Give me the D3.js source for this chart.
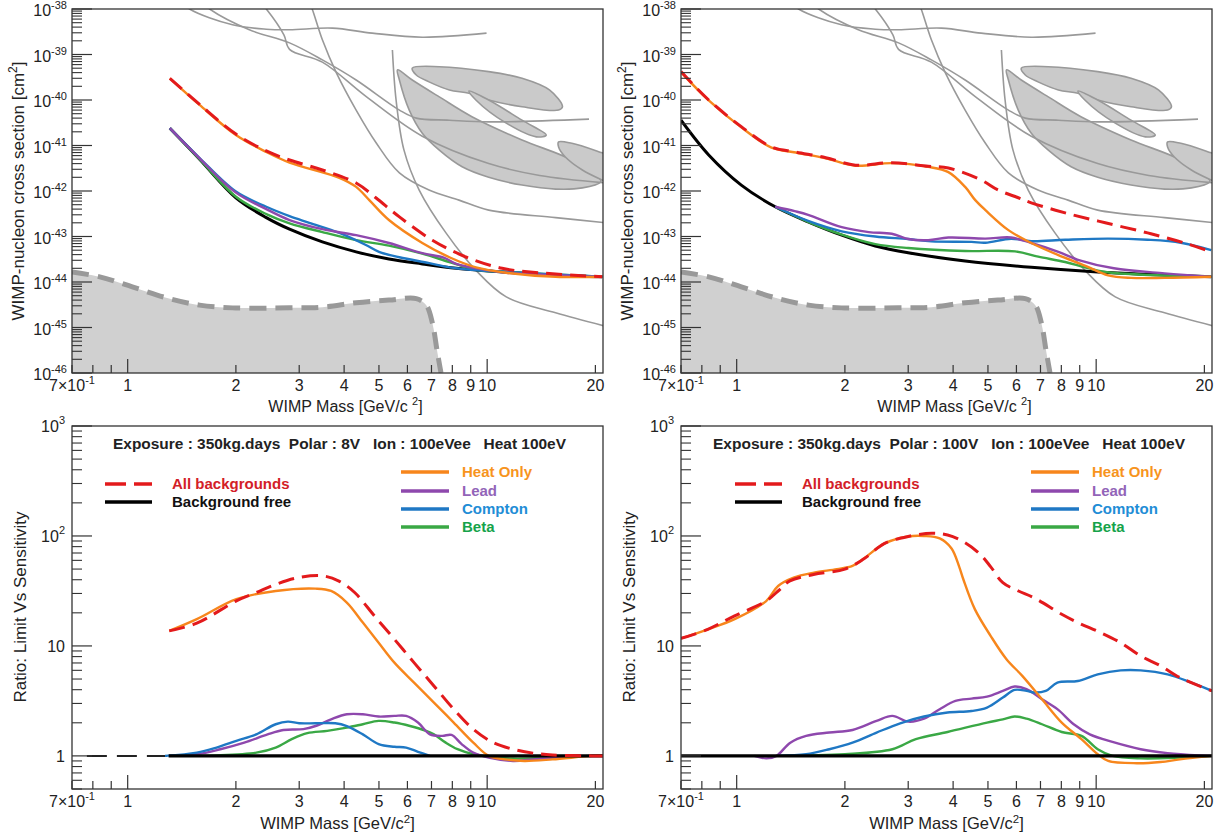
<!DOCTYPE html>
<html><head><meta charset="utf-8">
<script src="https://cdn.jsdelivr.net/npm/d3@7"></script>
<style>
body{margin:0;background:#fff}
svg{display:block}
text{font-family:"Liberation Sans",Arial,Helvetica,sans-serif;fill:#222}
</style></head>
<body><svg id="c" width="1227" height="836"></svg>
<script>
// ---------------- DATA ----------------
// Top-left (8V) : WIMP mass [GeV/c2] and cross-section [cm2]
const tlMassRed    = [1.31,1.585,2.0,2.43,2.82,3.48,4.32,4.9,5.7,7.04,8.76,11.0,13.9,20.9];
const tlSigRed     = [3.0e-40,8.0e-41,1.78e-41,7.6e-42,4.8e-42,2.9e-42,1.5e-42,7.1e-43,2.7e-43,8.3e-44,3.5e-44,2.0e-44,1.6e-44,1.3e-44];
const tlMassOrange = [1.31,1.585,2.0,2.43,2.82,3.88,4.32,4.7,5.33,6.6,7.85,9.31,11.3,15.5,20.9];
const tlSigOrange  = [3.0e-40,7.8e-41,1.7e-41,7.2e-42,4.2e-42,1.95e-42,1.23e-42,6.3e-43,2.3e-43,7.2e-44,3.5e-44,2.1e-44,1.6e-44,1.3e-44,1.3e-44];
const tlMassBlack  = [1.31,1.585,2.0,2.43,2.82,3.48,4.32,5.33,6.6,8.2,10.1,15.5,20.9];
const tlSigBlack   = [2.4e-41,5.0e-42,7.1e-43,2.6e-43,1.45e-43,7.6e-44,4.6e-44,3.2e-44,2.5e-44,2.0e-44,1.75e-44,1.4e-44,1.3e-44];
const tlMassBlue   = [1.31,1.585,2.0,2.43,2.82,3.2,3.88,4.6,5.0,5.7,6.9,7.85,9.1,10.1,20.9];
const tlSigBlue    = [2.4e-41,5.3e-42,9.7e-43,4.5e-43,2.8e-43,2.0e-43,1.2e-43,6.5e-44,4.6e-44,3.5e-44,2.6e-44,2.1e-44,1.85e-44,1.75e-44,1.3e-44];
const tlMassPurple = [1.31,1.585,2.0,2.43,2.82,3.48,4.32,5.33,6.6,7.6,8.2,10.1,11.3,20.9];
const tlSigPurple  = [2.4e-41,5.2e-42,9.2e-43,4.0e-43,2.3e-43,1.45e-43,1.07e-43,7.2e-44,4.3e-44,3.4e-44,2.5e-44,1.8e-44,1.6e-44,1.3e-44];
const tlMassGreen  = [1.31,1.585,2.0,2.43,2.82,3.48,4.32,5.33,6.6,7.85,9.31,10.1,20.9];
const tlSigGreen   = [2.4e-41,5.0e-42,7.5e-43,3.1e-43,1.95e-43,1.25e-43,8.3e-44,6.3e-44,4.2e-44,2.75e-44,1.85e-44,1.75e-44,1.3e-44];

// Top-right (100V)
const trMassRed    = [0.7,0.836,1.03,1.25,1.46,1.77,2.14,2.7,3.41,3.88,4.79,5.34,6.07,6.6,8.2,10.6,13.9,17.6,20.9];
const trSigRed     = [4.2e-40,1.0e-40,2.6e-41,9.3e-42,7.2e-42,5.4e-42,3.7e-42,4.2e-42,3.5e-42,3.2e-42,1.74e-42,1.05e-42,7.1e-43,5.5e-43,3.3e-43,2.0e-43,1.2e-43,7.2e-44,4.6e-44];
const trMassOrange = [0.7,0.836,1.03,1.25,1.46,1.77,2.14,2.7,3.41,3.88,4.32,4.61,4.92,5.7,6.6,7.85,9.3,10.8,12.5,15.5,20.9];
const trSigOrange  = [4.1e-40,9.8e-41,2.5e-41,9.0e-42,7.0e-42,5.2e-42,3.6e-42,4.1e-42,3.4e-42,2.6e-42,1.23e-42,6.3e-43,3.8e-43,1.38e-43,7.2e-44,3.9e-44,2.3e-44,1.4e-44,1.23e-44,1.23e-44,1.3e-44];
const trMassBlack  = [0.7,0.836,1.03,1.28,1.58,1.96,2.43,3.0,4.32,6.6,10.1,20.9];
const trSigBlack   = [3.6e-41,6.2e-42,1.35e-42,4.5e-43,2.1e-43,1.07e-43,6.2e-44,4.4e-44,2.9e-44,2.1e-44,1.66e-44,1.3e-44];
const trMassPurple = [1.28,1.45,1.58,1.96,2.33,2.7,3.0,3.41,3.88,4.92,5.8,6.6,7.85,9.0,11.2,15.5,20.9];
const trSigPurple  = [4.5e-43,3.6e-43,3.0e-43,1.6e-43,1.25e-43,1.15e-43,8.8e-44,8.3e-44,9.5e-44,9.0e-44,9.5e-44,7.2e-44,4.6e-44,3.0e-44,2.0e-44,1.55e-44,1.3e-44];
const trMassBlue   = [1.28,1.58,1.96,2.43,3.0,3.48,4.5,4.92,5.8,6.6,8.2,10.8,13.9,17.2,20.9];
const trSigBlue    = [4.5e-43,2.2e-43,1.3e-43,1.0e-43,8.8e-44,7.8e-44,7.6e-44,7.3e-44,8.9e-44,7.9e-44,8.5e-44,9.0e-44,8.5e-44,7.3e-44,5.0e-44];
const trMassGreen  = [1.28,1.58,1.96,2.43,3.0,4.32,5.95,6.9,8.2,9.3,10.6,20.9];
const trSigGreen   = [4.5e-43,2.1e-43,1.1e-43,6.8e-44,5.6e-44,4.8e-44,4.7e-44,3.6e-44,2.75e-44,2.1e-44,1.66e-44,1.3e-44];

// Other experiments (same on both top panels)
const nuMass = [0.7,0.836,1.03,1.28,1.585,1.957,2.82,3.48,4.32,5.33,6.35,6.77,7.04,7.25,7.44];
const nuSig  = [1.66e-44,1.3e-44,7.8e-45,4.5e-45,3.1e-45,2.7e-45,2.7e-45,2.8e-45,3.5e-45,4.0e-45,4.3e-45,3.1e-45,1.26e-45,3.2e-46,1.0e-46];
const blob1Mass = [6.19,7.36,10.1,12.5,14.9,16.2,15.8,12.5,10.1,8.9,7.85,6.89,6.35];
const blob1Sig  = [5.0e-40,5.4e-40,4.2e-40,3.0e-40,1.66e-40,7.1e-41,6.0e-41,7.1e-41,1.0e-40,1.41e-40,1.66e-40,2.5e-40,3.55e-40];
const blob2Mass = [5.63,6.19,7.36,9.07,12.5,17.2,20.7,20.7,18.4,15.5,12.5,10.1,8.52,7.36,6.6,6.07,5.7];
const blob2Sig  = [4.6e-40,2.75e-40,1.17e-40,4.3e-41,1.32e-41,4.8e-42,1.74e-42,1.58e-42,1.17e-42,1.1e-42,1.35e-42,2.0e-42,3.4e-42,7.9e-42,1.86e-41,6.0e-41,2.75e-40];
const blob3Mass = [8.9,10.1,12.5,14.6,13.7,11.3,9.3];
const blob3Sig  = [1.58e-40,1.0e-40,3.6e-41,1.7e-41,1.55e-41,3.1e-41,1.0e-40];
const blob4Mass = [15.8,17.2,20.9,23.4,23.4,20.9,18.4,16.5,15.8];
const blob4Sig  = [1.2e-41,1.12e-41,6.9e-42,5.0e-42,1.2e-42,1.74e-42,2.9e-42,5.6e-42,9.3e-42];
const g1Mass = [1.394,1.486,1.957,2.43,2.82,3.71,4.79,6.6,9.96];
const g1Sig  = [1.58e-38,1.0e-38,4.5e-39,3.6e-39,3.5e-39,3.8e-39,2.95e-39,2.4e-39,2.95e-39];
const g2Mass = [3.2,3.26,3.48,3.81,4.32,4.92,5.7,6.89,8.35,10.1,15.5,21.5];
const g2Sig  = [1.4e-38,1.0e-38,2.1e-39,3.9e-40,6.0e-41,1.12e-41,2.5e-42,1.05e-42,6.3e-43,3.8e-43,2.6e-43,2.0e-43];
const g3Mass = [5.45,5.58,5.87,6.47,7.68,9.31,11.3,15.5,21.5];
const g3Sig  = [1.26e-39,1.0e-40,7.9e-42,1.05e-42,1.2e-43,1.8e-44,4.7e-45,2.1e-45,1.05e-45];
const g4Mass = [1.585,1.69,2.18,2.82,3.48,4.32,5.7,6.35,7.85,10.1,19.2];
const g4Sig  = [1.58e-38,1.0e-38,3.5e-39,1.8e-39,7.6e-40,2.75e-40,6.0e-41,4.0e-41,3.6e-41,3.3e-41,3.8e-41];
const g5Mass = [2.3,2.43,2.72,2.82,3.48,4.6,6.6,10.1,14.0,21.5];
const g5Sig  = [1.6e-38,1.0e-38,2.7e-39,1.3e-39,6.8e-40,1.2e-40,1.6e-41,4.0e-42,2.2e-42,1.5e-42];

// Bottom-left (8V) ratio limit / background-free
const blMassRed    = [1.305,1.557,2.006,2.28,2.58,3.0,3.5,3.87,4.28,4.86,5.52,6.26,7.11,8.07,9.15,10.4,11.8,13.4,15.2,19.6,21];
const blRatioRed   = [13.7,16.1,25.7,30.6,36.3,41.9,43.3,38.9,30.6,18.7,11.5,7.05,4.33,2.66,1.75,1.32,1.15,1.06,1.02,1.0,1.0];
const blMassOrange = [1.305,1.557,2.006,2.58,3.33,3.68,4.07,4.51,4.99,5.52,6.26,7.11,8.07,9.15,10.1,11.2,12.7,15.2,19.6,21];
const blRatioOrange= [13.7,17.5,26.6,31.6,33.2,31.6,24.8,16.3,10.7,7.05,4.64,3.05,2.01,1.32,1.0,0.93,0.90,0.93,1.0,1.0];
const blMassBlue   = [1.27,1.557,1.766,2.006,2.28,2.58,2.79,3.0,3.33,3.78,4.07,4.51,4.99,5.52,5.95,6.42,6.93];
const blRatioBlue  = [1.0,1.07,1.19,1.37,1.57,1.94,2.05,1.98,1.98,1.98,1.87,1.57,1.28,1.21,1.19,1.09,1.0];
const blMassPurple = [1.305,1.557,1.81,2.11,2.45,2.71,3.08,3.33,3.68,4.07,4.51,4.99,5.52,5.95,6.42,6.93,7.5,7.96,8.49,9.15,10.1,11.8,13.4,15.2,19.6,21];
const blRatioPurple= [1.0,1.035,1.15,1.32,1.57,1.72,1.75,1.87,2.15,2.39,2.39,2.28,2.31,2.31,2.01,1.57,1.52,1.55,1.28,1.07,0.965,0.90,0.93,0.965,1.0,1.0];
const blMassGreen  = [1.305,1.766,2.28,2.58,2.86,3.16,3.59,4.07,4.51,4.99,5.52,6.1,6.76,7.11,7.67,8.27,9.15,10.1,11.8,15.2,19.6,21];
const blRatioGreen = [1.0,1.01,1.07,1.19,1.42,1.61,1.69,1.81,1.94,2.08,2.01,1.87,1.69,1.57,1.32,1.15,1.035,0.986,0.946,0.965,1.0,1.0];
const blMassBlack  = [1.3,21];
const blRatioBlack = [1,1];
const blMassLowDash  = [0.77,1.3];
const blRatioLowDash = [1,1];

// Bottom-right (100V)
const brMassRed    = [0.7,0.828,0.987,1.208,1.304,1.406,1.636,2.0,2.26,2.58,3.0,3.49,3.86,4.27,4.73,5.09,5.5,6.08,6.72,8.02,8.89,10.3,11.7,13.3,15.1,17.1,21.0];
const brRatioRed   = [11.7,14.1,18.8,25.6,31.6,39.0,44.6,49.9,62,85.7,99,106,102,88.8,69.4,52.4,37.6,31.6,27.4,19.4,16.3,13.2,10.7,8.1,6.6,5.16,3.9];
const brMassOrange = [0.7,0.828,0.987,1.208,1.304,1.44,1.64,1.9,2.1,2.26,2.58,3.0,3.32,3.67,3.96,4.16,4.27,4.6,5.09,5.63,6.23,7.07,8.02,9.1,10.1,10.8,12.98,15.1,17.1,21.0];
const brRatioOrange= [11.7,14.1,17.5,25.6,35.1,41.8,46.4,49.9,53.4,62.5,85.7,99,100,95,77,52.4,40.4,21.5,12.3,7.57,5.34,3.27,2.01,1.42,1.035,0.90,0.858,0.88,0.93,1.0];
const brMassPurple = [1.12,1.21,1.29,1.41,1.56,1.81,2.1,2.45,2.71,3.0,3.32,3.67,4.06,4.5,4.97,5.5,5.93,6.4,7.07,7.8,8.66,9.6,11.1,13.3,15.8,19.4,21];
const brRatioPurple= [1.0,0.95,1.0,1.32,1.52,1.63,1.72,2.08,2.31,2.05,2.18,2.66,3.16,3.32,3.46,3.9,4.27,4.04,3.27,2.66,1.94,1.57,1.34,1.15,1.06,1.01,1.0];
const brMassBlue   = [1.3,1.56,1.81,2.1,2.45,2.85,3.32,3.86,4.5,4.97,5.5,5.93,6.4,6.72,7.24,7.8,8.89,10.1,11.7,13.3,15.8,18.4,21];
const brRatioBlue  = [1.0,1.035,1.15,1.32,1.63,1.98,2.28,2.48,2.56,2.75,3.39,3.98,3.9,3.77,3.9,4.64,4.8,5.52,6.0,6.0,5.52,4.64,3.9];
const brMassGreen  = [1.3,2.0,2.71,3.15,3.86,4.97,5.5,5.93,6.4,7.07,8.02,9.1,10.1,11.1,13.3,17.1,21];
const brRatioGreen = [1.0,1.035,1.15,1.42,1.65,2.01,2.15,2.28,2.18,1.94,1.65,1.52,1.15,1.0,0.95,0.965,1.0];
const brMassBlack  = [0.7,21];
const brRatioBlack = [1,1];

// Axis tick values & labels
const xTicks = [0.7,0.8,0.9,1,2,3,4,5,6,7,8,9,10,20];
const xTickLabels = {0.7:["7×10","-1"],1:["1"],2:["2"],3:["3"],4:["4"],5:["5"],6:["6"],7:["7"],8:["8"],9:["9"],10:["10"],20:["20"]};
const sigmaDecades = [-46,-45,-44,-43,-42,-41,-40,-39,-38];
const ratioDecades = [0,1,2,3];
const legendLeft  = ["All backgrounds","Background free"];
const legendRight = ["Heat Only","Lead","Compton","Beta"];
const exposureTexts = ["Exposure : 350kg.days  Polar : 8V   Ion : 100eVee   Heat 100eV",
                       "Exposure : 350kg.days  Polar : 100V   Ion : 100eVee   Heat 100eV"];

// ---------------- DRAWING ----------------
const C = {red:"#e31a1c", orange:"#f7861c", purple:"#8e48ad", blue:"#1f78c4", green:"#3aa845", black:"#000",
           redT:"#d32027", orangeT:"#f7941d", purpleT:"#9264b8", blueT:"#1f8dd6", greenT:"#16a34a"};
const svg = d3.select("#c");
const defs = svg.append("defs");

function makePanel(id, x0, x1, y0, y1, yDomain){
  const xs = d3.scaleLog().domain([0.7,21]).range([x0,x1]);
  const ys = d3.scaleLog().domain(yDomain).range([y1,y0]);
  defs.append("clipPath").attr("id","clip"+id).append("rect")
    .attr("x",x0).attr("y",y0).attr("width",x1-x0).attr("height",y1-y0);
  const g = svg.append("g");
  const plot = g.append("g").attr("clip-path",`url(#clip${id})`);
  return {xs,ys,g,plot,x0,x1,y0,y1};
}
function drawFrame(p){
  p.g.append("rect").attr("x",p.x0).attr("y",p.y0).attr("width",p.x1-p.x0).attr("height",p.y1-p.y0)
    .attr("fill","none").attr("stroke","#333").attr("stroke-width",1.3);
  xTicks.forEach(v=>{
    const X = p.xs(v); const len = (v===1||v===10)?14:8;
    p.g.append("line").attr("x1",X).attr("x2",X).attr("y1",p.y1).attr("y2",p.y1-len).attr("stroke","#333").attr("stroke-width",1.2);
    const lab = xTickLabels[v];
    if(lab){
      const t = p.g.append("text").attr("x",X).attr("y",p.y1+18).attr("text-anchor","middle").attr("font-size",16);
      t.append("tspan").text(lab[0]);
      if(lab[1]) t.append("tspan").attr("dy",-7).attr("font-size",11).text(lab[1]);
    }
  });
}
function yTicksLog(p, decs, labelFn){
  decs.forEach(d=>{
    const Y = p.ys(Math.pow(10,d));
    p.g.append("line").attr("x1",p.x0).attr("x2",p.x0+20).attr("y1",Y).attr("y2",Y).attr("stroke","#333").attr("stroke-width",1.2);
    labelFn(d, Y);
  });
  const dom = p.ys.domain();
  for(let d=decs[0]-1; d<=decs[decs.length-1]; d++){
    for(let k=2;k<=9;k++){
      const v = k*Math.pow(10,d);
      if(v<dom[0]*0.999 || v>dom[1]*1.001) continue;
      const Y = p.ys(v);
      p.g.append("line").attr("x1",p.x0).attr("x2",p.x0+10).attr("y1",Y).attr("y2",Y).attr("stroke","#333").attr("stroke-width",1.1);
    }
  }
}
function curve(p, mass, vals, color, width, dash, closed){
  const pts = mass.map((m,i)=>[p.xs(m), p.ys(vals[i])]);
  const line = d3.line().curve(closed?d3.curveCatmullRomClosed.alpha(0.5):d3.curveCatmullRom.alpha(0.5));
  const path = p.plot.append("path").attr("d",line(pts)).attr("fill","none")
    .attr("stroke",color).attr("stroke-width",width).attr("stroke-linejoin","round");
  if(dash) path.attr("stroke-dasharray",dash);
  return path;
}

function drawTop(id, x0, x1, data){
  const p = makePanel(id, x0, x1, 9, 373, [1e-46,1e-38]);
  const nuPts = nuMass.map((m,i)=>[p.xs(m),p.ys(nuSig[i])]);
  const area = d3.area().x(d=>d[0]).y0(p.y1).y1(d=>d[1]).curve(d3.curveCatmullRom.alpha(0.5));
  p.plot.append("path").attr("d",area(nuPts)).attr("fill","#d0d0d0");
  p.plot.append("path").attr("d",d3.line().curve(d3.curveCatmullRom.alpha(0.5))(nuPts))
    .attr("fill","none").attr("stroke","#999").attr("stroke-width",5).attr("stroke-dasharray","17,9");
  [[blob1Mass,blob1Sig],[blob2Mass,blob2Sig],[blob3Mass,blob3Sig],[blob4Mass,blob4Sig]].forEach(([m,s])=>{
    curve(p,m,s,"#999",1.6,null,true).attr("fill","#cacaca");
  });
  [[g1Mass,g1Sig],[g2Mass,g2Sig],[g3Mass,g3Sig],[g4Mass,g4Sig],[g5Mass,g5Sig]].forEach(([m,s])=>{
    curve(p,m,s,"#999",1.6);
  });
  curve(p,data.bk[0],data.bk[1],C.black,3);
  curve(p,data.gr[0],data.gr[1],C.green,2.4);
  curve(p,data.bl[0],data.bl[1],C.blue,2.4);
  curve(p,data.pu[0],data.pu[1],C.purple,2.4);
  curve(p,data.or[0],data.or[1],C.orange,2.4);
  curve(p,data.rd[0],data.rd[1],C.red,3,"16,8");
  drawFrame(p);
  yTicksLog(p, sigmaDecades, (d,Y)=>{
    const t = p.g.append("text").attr("x",x0-5).attr("y",Y+7).attr("text-anchor","end").attr("font-size",16);
    t.append("tspan").text("10");
    t.append("tspan").attr("dy",-7).attr("font-size",11).text(String(d));
  });
  const cx = (x0+x1)/2+8;
  const tx = p.g.append("text").attr("x",cx).attr("y",412).attr("text-anchor","middle").attr("font-size",16);
  tx.append("tspan").text("WIMP Mass [GeV/c ");
  tx.append("tspan").attr("dy",-7).attr("font-size",11).text("2");
  tx.append("tspan").attr("dy",7).text("]");
  const ty = p.g.append("text").attr("transform",`translate(${x0-48},191) rotate(-90)`).attr("text-anchor","middle").attr("font-size",17);
  ty.append("tspan").text("WIMP-nucleon cross section [cm");
  ty.append("tspan").attr("dy",-7).attr("font-size",12).text("2");
  ty.append("tspan").attr("dy",7).text("]");
}

function drawBottom(id, x0, x1, data, expo, legL, legR){
  const p = makePanel(id, x0, x1, 426, 789, [0.5,1000]);
  if(data.low) curve(p,data.low[0],data.low[1],"#222",2,"20,10");
  curve(p,data.gr[0],data.gr[1],C.green,2.4);
  curve(p,data.pu[0],data.pu[1],C.purple,2.4);
  curve(p,data.bl[0],data.bl[1],C.blue,2.4);
  curve(p,data.or[0],data.or[1],C.orange,2.4);
  curve(p,data.bk[0],data.bk[1],C.black,3.2);
  curve(p,data.rd[0],data.rd[1],C.red,3,"16,8");
  drawFrame(p);
  yTicksLog(p, ratioDecades, (d,Y)=>{
    const t = p.g.append("text").attr("x",x0-7).attr("y",Y+6).attr("text-anchor","end").attr("font-size",16);
    if(d===0) t.text("1"); else if(d===1) t.text("10");
    else { t.append("tspan").text("10"); t.append("tspan").attr("dy",-8).attr("font-size",11).text(String(d)); }
  });
  const tx = p.g.append("text").attr("x",(x0+x1)/2).attr("y",829).attr("text-anchor","middle").attr("font-size",16.5);
  tx.append("tspan").text("WIMP Mass [GeV/c");
  tx.append("tspan").attr("dy",-6).attr("font-size",11.5).text("2");
  tx.append("tspan").attr("dy",6).text("]");
  p.g.append("text").attr("transform",`translate(${x0-46},607) rotate(-90)`).attr("text-anchor","middle").attr("font-size",17)
    .text("Ratio: Limit Vs Sensitivity");
  p.g.append("text").attr("x",expo.x).attr("y",449).attr("font-size",14).attr("font-weight","bold")
    .style("white-space","pre").attr("xml:space","preserve")
    .attr("textLength",expo.w).attr("lengthAdjust","spacingAndGlyphs").text(expo.t);
  const L = [[C.red,"16,8",C.redT,484],[C.black,null,"#111",502]];
  legendLeft.forEach((s,i)=>{
    const [c,dash,tc,y] = L[i];
    const ln = p.g.append("line").attr("x1",legL.x).attr("x2",legL.x+47).attr("y1",y).attr("y2",y).attr("stroke",c).attr("stroke-width",3.5);
    if(dash) ln.attr("stroke-dasharray","21,8");
    p.g.append("text").attr("x",legL.x+67).attr("y",y+5).attr("font-size",15).attr("font-weight","bold").style("fill",tc).text(s);
  });
  const R = [[C.orange,C.orangeT,472],[C.purple,C.purpleT,491],[C.blue,C.blueT,509],[C.green,C.greenT,527]];
  legendRight.forEach((s,i)=>{
    const [c,tc,y] = R[i];
    p.g.append("line").attr("x1",legR.x).attr("x2",legR.x+48).attr("y1",y).attr("y2",y).attr("stroke",c).attr("stroke-width",3.5);
    p.g.append("text").attr("x",legR.x+61).attr("y",y+5).attr("font-size",15).attr("font-weight","bold").style("fill",tc).text(s);
  });
}

drawTop("tl",72,603,{rd:[tlMassRed,tlSigRed],or:[tlMassOrange,tlSigOrange],bk:[tlMassBlack,tlSigBlack],
  bl:[tlMassBlue,tlSigBlue],pu:[tlMassPurple,tlSigPurple],gr:[tlMassGreen,tlSigGreen]});
drawTop("tr",681,1212,{rd:[trMassRed,trSigRed],or:[trMassOrange,trSigOrange],bk:[trMassBlack,trSigBlack],
  bl:[trMassBlue,trSigBlue],pu:[trMassPurple,trSigPurple],gr:[trMassGreen,trSigGreen]});
drawBottom("bl",72,603,{rd:[blMassRed,blRatioRed],or:[blMassOrange,blRatioOrange],bk:[blMassBlack,blRatioBlack],
  bl:[blMassBlue,blRatioBlue],pu:[blMassPurple,blRatioPurple],gr:[blMassGreen,blRatioGreen],low:[blMassLowDash,blRatioLowDash]},
  {x:113,w:453,t:exposureTexts[0]},{x:105},{x:401});
drawBottom("br",681,1212,{rd:[brMassRed,brRatioRed],or:[brMassOrange,brRatioOrange],bk:[brMassBlack,brRatioBlack],
  bl:[brMassBlue,brRatioBlue],pu:[brMassPurple,brRatioPurple],gr:[brMassGreen,brRatioGreen]},
  {x:713,w:472,t:exposureTexts[1]},{x:735},{x:1031});
</script></body></html>
